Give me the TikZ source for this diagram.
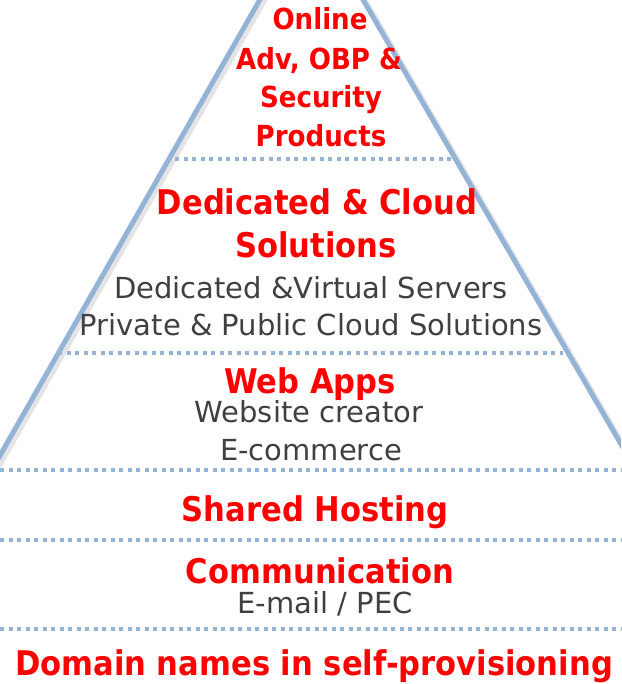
\documentclass[tikz,border=0pt]{standalone}
\usepackage{fontspec}
\setmainfont[FakeStretch=0.9]{DejaVu Sans}
\newfontfamily\plainsans{DejaVu Sans}
\usetikzlibrary{calc}
\definecolor{pyrblue}{HTML}{95B3D7}
\definecolor{txtgray}{HTML}{404040}
\tikzset{
  head/.style={text=red, font=\bfseries\fontsize{34}{38}\selectfont, anchor=base, inner sep=0pt},
  tophead/.style={head, font=\bfseries\fontsize{29}{32}\selectfont},
  sub/.style={text=txtgray, font=\plainsans\fontsize{29}{32}\selectfont, anchor=base, inner sep=0pt},
  layer/.style={pyrblue, line width=4pt, dash pattern=on 4pt off 4.5pt},
  edge/.style={pyrblue, line width=5pt},
}

\begin{document}
\begin{tikzpicture}[x=1pt, y=-1pt]
    \useasboundingbox (0,0) rectangle (621,684);
    \coordinate (apex) at (311,-90);
    \coordinate (bl) at (-14,480);
    \coordinate (br) at (636,470);

    % pyramid sides with a soft shadow
    \begin{scope}
        \clip (0,0) rectangle (621,684);
        \draw[black!15, line width=6pt, opacity=0.7] ($(bl)+(3,3)$) -- ($(apex)+(3,3)$) -- ($(br)+(3,3)$);
        \draw[edge] (bl) -- (apex) -- (br);
    \end{scope}

    % layer separators
    \draw[layer] (175,159) -- (457,159);
    \draw[layer] (58,353) -- (563,353);
    \foreach \y in {470,540,629}
        \draw[layer] (0,\y) -- (621,\y);

    \node[tophead] (online) at (320,30) {Online};
    \node[tophead] (adv) at (319,70) {Adv, OBP \&};
    \node[tophead] (secur) at (321,108) {Security};
    \node[tophead] (prod) at (321,147) {Products};

    \node[head] (dedic) at (317,215) {Dedicated \& Cloud};
    \node[head] (solut) at (316,258) {Solutions};
    \node[sub] (virt) at (311,298) {Dedicated \&Virtual Servers};
    \node[sub] (cloud) at (311,335) {Private \& Public Cloud Solutions};

    \node[head] (webapps) at (310,393) {Web Apps};
    \node[sub] (creator) at (309,422) {Website creator};
    \node[sub] (ecom) at (311,460) {E-commerce};

    \node[head] (shared) at (315,521) {Shared Hosting};

    \node[head] (comm) at (320,583) {Communication};
    \node[sub] (mail) at (325,613) {E-mail / PEC};

    \node[head] (domain) at (314,675) {Domain names in self-provisioning};
\end{tikzpicture}
\end{document}
